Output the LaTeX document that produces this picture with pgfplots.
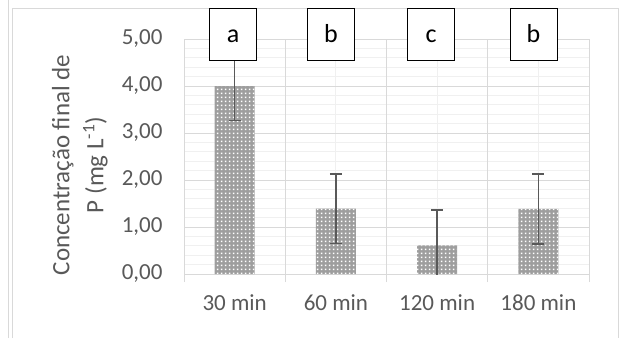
\documentclass[border=0pt]{standalone}
\usepackage{pgfplots}
\pgfplotsset{compat=1.18}
\usetikzlibrary{patterns}
\usepackage{fontspec}
\setmainfont{Carlito}
\definecolor{txt}{HTML}{595959}
\definecolor{gridmaj}{HTML}{D9D9D9}
\definecolor{gridmin}{HTML}{F0F0F0}
\definecolor{framec}{HTML}{D9D9D9}
\definecolor{barc}{HTML}{9E9E9E}
\definecolor{errc}{HTML}{595959}
\pgfdeclarepatternformonly{exceldots}{\pgfqpoint{0pt}{0pt}}{\pgfqpoint{4pt}{4pt}}{\pgfqpoint{4pt}{4pt}}{\pgfpathrectangle{\pgfqpoint{1pt}{1pt}}{\pgfqpoint{2pt}{2pt}}\pgfusepath{fill}}
\begin{document}
\begin{tikzpicture}
\useasboundingbox (0,0) rectangle (620pt,338pt);
\fill[white] (0,0) rectangle (620pt,338pt);
\draw[framec, line width=0.9pt] (8.5pt,0) -- (8.5pt,338pt);
\draw[framec, line width=0.9pt] (12.5pt,0) -- (12.5pt,330pt) -- (618pt,330pt) -- (618pt,0);
\begin{axis}[
  at={(184pt,64pt)}, anchor=south west,
  scale only axis, width=405pt, height=235pt,
  xmin=-0.5, xmax=3.5, ymin=0, ymax=5,
  axis line style={draw=none},
  clip mode=individual,
  ytick={0,1,2,3,4,5},
  yticklabels={{0,00},{1,00},{2,00},{3,00},{4,00},{5,00}},
  minor y tick num=4,
  ymajorgrids, yminorgrids,
  major y grid style={color=gridmaj, line width=0.9pt},
  minor y grid style={color=gridmin, line width=0.9pt},
  ytick style={draw=none},
  minor tick length=0pt,
  xtick={0,1,2,3},
  xticklabels={30 min,60 min,120 min,180 min},
  xmajorgrids,
  major x grid style={color=gridmin, line width=0.9pt},
  xtick pos=bottom,
  tick align=outside,
  major tick length=0pt,
  extra x ticks={-0.5,0.5,1.5,2.5,3.5},
  extra x tick labels={},
  extra x tick style={major tick length=8pt, major x grid style={color=gridmaj, line width=0.9pt}, xtick style={draw=gridmaj, line width=0.9pt}},
  ticklabel style={font=\fontsize{23}{28}\selectfont, text=txt},
  yticklabel style={xshift=-18pt},
  xticklabel style={yshift=-17pt},
  ylabel={Concentração final de\\P (mg L\textsuperscript{-1})},
  every axis y label/.style={at={(rel axis cs:-0.257,0.464)}, rotate=90, anchor=center},
  ylabel style={align=center, font=\fontsize{25}{34}\selectfont, text=txt},
]
\addplot[ybar, bar width=40pt, bar shift=0pt, draw=none, fill=barc,
  postaction={pattern=exceldots, pattern color=white},
  error bars/.cd, y dir=both, y explicit,
  error bar style={color=errc, line width=1.3pt},
  error mark options={color=errc, line width=1.3pt, mark size=6pt, rotate=90}]
  coordinates {
    (0,4.00) +- (0,0.74)
    (1,1.39) +- (0,0.74)
    (2,0.61) +- (0,0.75)
    (3,1.385) +- (0,0.745)
  };
\tikzset{lbox/.style={draw=black, fill=white, line width=1pt, minimum width=47pt, minimum height=52pt, inner sep=0pt, font=\fontsize{26}{30}\selectfont}}
\node[lbox] at (axis cs:-0.015,5.106) {\vphantom{b}a};
\node[lbox] at (axis cs:0.952,5.106) {\vphantom{b}b};
\node[lbox] at (axis cs:1.94,5.106) {\vphantom{b}c};
\node[lbox] at (axis cs:2.952,5.106) {\vphantom{b}b};
\end{axis}
\end{tikzpicture}
\end{document}
